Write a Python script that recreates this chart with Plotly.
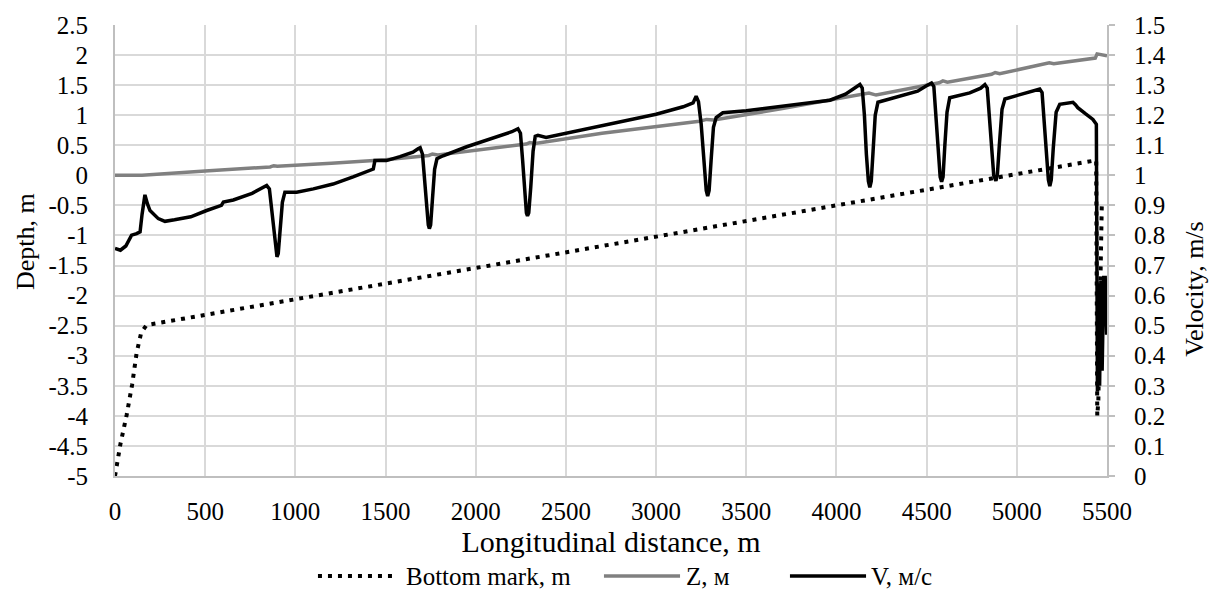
import plotly.graph_objects as go

# ---------------- data ----------------
# Bottom mark, m (left axis)
bottom_x = [0, 30, 65, 95, 120, 145, 175, 1000, 2000, 3000, 4000, 5000, 5440, 5446, 5452, 5471]
bottom_y = [-5.0, -4.47, -3.98, -3.48, -2.95, -2.62, -2.49, -2.06, -1.55, -1.03, -0.5, 0.02, 0.25, -4.0, -3.75, -0.5]

# Z, m (left axis)
z_x = [0, 150, 500, 860, 880, 900, 1200, 1500, 1740, 1760, 1790, 2000, 2280, 2300, 2330, 2700,
       3240, 3280, 3320, 3700, 4140, 4180, 4220, 4570, 4590, 4615, 4860, 4880, 4905,
       5160, 5180, 5205, 5435, 5445, 5500]
z_y = [0.0, 0.0, 0.07, 0.14, 0.16, 0.15, 0.2, 0.26, 0.33, 0.355, 0.34, 0.42, 0.52, 0.545, 0.53, 0.7,
       0.9, 0.93, 0.92, 1.11, 1.35, 1.37, 1.335, 1.54, 1.57, 1.55, 1.68, 1.71, 1.69,
       1.85, 1.87, 1.855, 1.95, 2.02, 1.99]

# V, m/s (right axis)
v_x = [0, 30, 60, 92, 120, 139, 150, 166, 180, 194, 240, 277, 330, 360, 420, 508, 590, 601, 656, 760,
       841, 856, 870, 884, 893, 898, 905, 915, 928, 942,
       1007, 1100, 1209, 1320, 1432, 1441, 1505, 1580, 1652, 1680,
       1692, 1705, 1716, 1728, 1737, 1743, 1750, 1760, 1772, 1785, 1800, 1819,
       1950, 2134, 2200, 2234,
       2248, 2260, 2272, 2281, 2287, 2294, 2305, 2318, 2330, 2345, 2390,
       2500, 2700, 3000, 3150, 3205, 3222,
       3235, 3250, 3265, 3278, 3286, 3294, 3305, 3318, 3333, 3370,
       3500, 3700, 3964, 4050, 4091, 4130,
       4143, 4155, 4166, 4177, 4185, 4193, 4203, 4215, 4230,
       4351, 4450, 4499, 4527,
       4540, 4552, 4564, 4575, 4583, 4591, 4601, 4613, 4628,
       4739, 4800, 4823,
       4836, 4848, 4860, 4872, 4884, 4892, 4903, 4918, 4934,
       5030, 5100, 5127,
       5140, 5152, 5164, 5175, 5183, 5191, 5202, 5218, 5238,
       5290, 5311, 5325, 5338, 5380, 5422, 5441,
       5447, 5453, 5459, 5466, 5473, 5482, 5490, 5498]
v_y = [0.757, 0.751, 0.765, 0.801, 0.806, 0.812, 0.87, 0.935, 0.905, 0.883, 0.856, 0.847, 0.852, 0.856, 0.862, 0.883, 0.9, 0.911, 0.918, 0.94,
       0.966, 0.955, 0.88, 0.78, 0.74, 0.729, 0.74, 0.82, 0.91, 0.944,
       0.944, 0.955, 0.971, 0.995, 1.021, 1.049, 1.049, 1.062, 1.077, 1.088,
       1.092, 1.07, 0.98, 0.88, 0.835, 0.823, 0.835, 0.92, 1.02, 1.055, 1.06, 1.065,
       1.095, 1.131, 1.145, 1.155,
       1.14, 1.05, 0.93, 0.875, 0.865, 0.875, 0.96, 1.08, 1.13, 1.133, 1.126,
       1.14, 1.165, 1.203, 1.228, 1.241, 1.263,
       1.245, 1.17, 1.05, 0.95, 0.931, 0.95, 1.05, 1.16, 1.192, 1.208,
       1.215, 1.23, 1.25, 1.27, 1.285, 1.302,
       1.29, 1.2, 1.07, 0.98, 0.96, 0.98, 1.08, 1.2, 1.243,
       1.263, 1.28, 1.298, 1.307,
       1.295, 1.2, 1.07, 0.995, 0.979, 0.995, 1.1, 1.21, 1.258,
       1.274, 1.29, 1.302,
       1.29, 1.2, 1.08, 1.0, 0.982, 1.0, 1.1, 1.22, 1.254,
       1.27, 1.28, 1.287,
       1.275, 1.18, 1.06, 0.985, 0.964, 0.985, 1.09, 1.21, 1.236,
       1.24, 1.243, 1.235, 1.225, 1.205, 1.186, 1.17,
       0.28, 0.64, 0.30, 0.65, 0.35, 0.66, 0.66, 0.47]

# tick labels
depth_ticks = [-5, -4.5, -4, -3.5, -3, -2.5, -2, -1.5, -1, -0.5, 0, 0.5, 1, 1.5, 2, 2.5]
depth_tick_text = ["-5", "-4.5", "-4", "-3.5", "-3", "-2.5", "-2", "-1.5", "-1", "-0.5",
                   "0", "0.5", "1", "1.5", "2", "2.5"]
vel_ticks = [0, 0.1, 0.2, 0.3, 0.4, 0.5, 0.6, 0.7, 0.8, 0.9, 1, 1.1, 1.2, 1.3, 1.4, 1.5]
vel_tick_text = ["0", "0.1", "0.2", "0.3", "0.4", "0.5", "0.6", "0.7", "0.8", "0.9",
                 "1", "1.1", "1.2", "1.3", "1.4", "1.5"]
dist_ticks = [0, 500, 1000, 1500, 2000, 2500, 3000, 3500, 4000, 4500, 5000, 5500]

legend_names = ["Bottom mark, m", "Z, м", "V, м/с"]

# ---------------- styling ----------------
FONT = "Liberation Serif, Times New Roman, serif"
FS = 25
GRID = "#d9d9d9"
AXIS = "#bfbfbf"
Z_COLOR = "#808080"
DOT = "4px,6px"

fig = go.Figure()
fig.add_trace(go.Scatter(x=bottom_x, y=bottom_y, mode="lines", name=legend_names[0],
                         line=dict(color="black", width=4, dash=DOT), yaxis="y"))
fig.add_trace(go.Scatter(x=z_x, y=z_y, mode="lines", name=legend_names[1],
                         line=dict(color=Z_COLOR, width=3.5), yaxis="y"))
fig.add_trace(go.Scatter(x=v_x, y=v_y, mode="lines", name=legend_names[2],
                         line=dict(color="black", width=3.5), yaxis="y2"))

fig.update_layout(
    width=1217, height=596,
    margin=dict(l=115, r=110, t=21, b=120),
    paper_bgcolor="white", plot_bgcolor="white",
    font=dict(family=FONT, size=FS, color="black"),
    showlegend=False,
    xaxis=dict(range=[0, 5500], tickvals=dist_ticks, showgrid=True, gridcolor=GRID, gridwidth=2,
               showline=True, linecolor=AXIS, linewidth=2, zeroline=False, ticks="",
               ticklabelstandoff=12,
               title=dict(text="Longitudinal distance, m", font=dict(size=30), standoff=4)),
    yaxis=dict(range=[-5, 2.5], tickvals=depth_ticks, ticktext=depth_tick_text,
               showgrid=True, gridcolor=GRID, gridwidth=2, showline=True, linecolor=AXIS,
               linewidth=2, zeroline=False, ticks="", ticklabelstandoff=20),
    yaxis2=dict(range=[0, 1.5], tickvals=vel_ticks, ticktext=vel_tick_text, overlaying="y",
                side="right", showgrid=False, showline=True, linecolor=AXIS, linewidth=2,
                zeroline=False, ticks="outside", ticklen=6, tickwidth=2, tickcolor=AXIS,
                ticklabelstandoff=14),
)

# axis titles for the two vertical axes
fig.add_annotation(text="Depth, m", xref="paper", yref="paper", x=-0.0897, y=0.519,
                   textangle=-90, showarrow=False, xanchor="center", yanchor="middle",
                   font=dict(size=26))
fig.add_annotation(text="Velocity, m/s", xref="paper", yref="paper", x=1.0887, y=0.415,
                   textangle=-90, showarrow=False, xanchor="center", yanchor="middle",
                   font=dict(size=26))

# legend drawn below the x-axis title
leg_y = -0.222
leg_items = [
    (0.2046, 0.2802, 0.2913, dict(color="black", width=4, dash=DOT)),
    (0.4929, 0.5696, 0.5736, dict(color=Z_COLOR, width=3.5)),
    (0.6804, 0.7571, 0.7601, dict(color="black", width=3.5)),
]
for name, (x0, x1, xt, ln) in zip(legend_names, leg_items):
    fig.add_shape(type="line", xref="paper", yref="paper", x0=x0, x1=x1, y0=leg_y, y1=leg_y,
                  line=ln)
    fig.add_annotation(text=name, xref="paper", yref="paper", x=xt, y=leg_y, showarrow=False,
                       xanchor="left", yanchor="middle", font=dict(size=FS))

fig.write_html("out.html")
